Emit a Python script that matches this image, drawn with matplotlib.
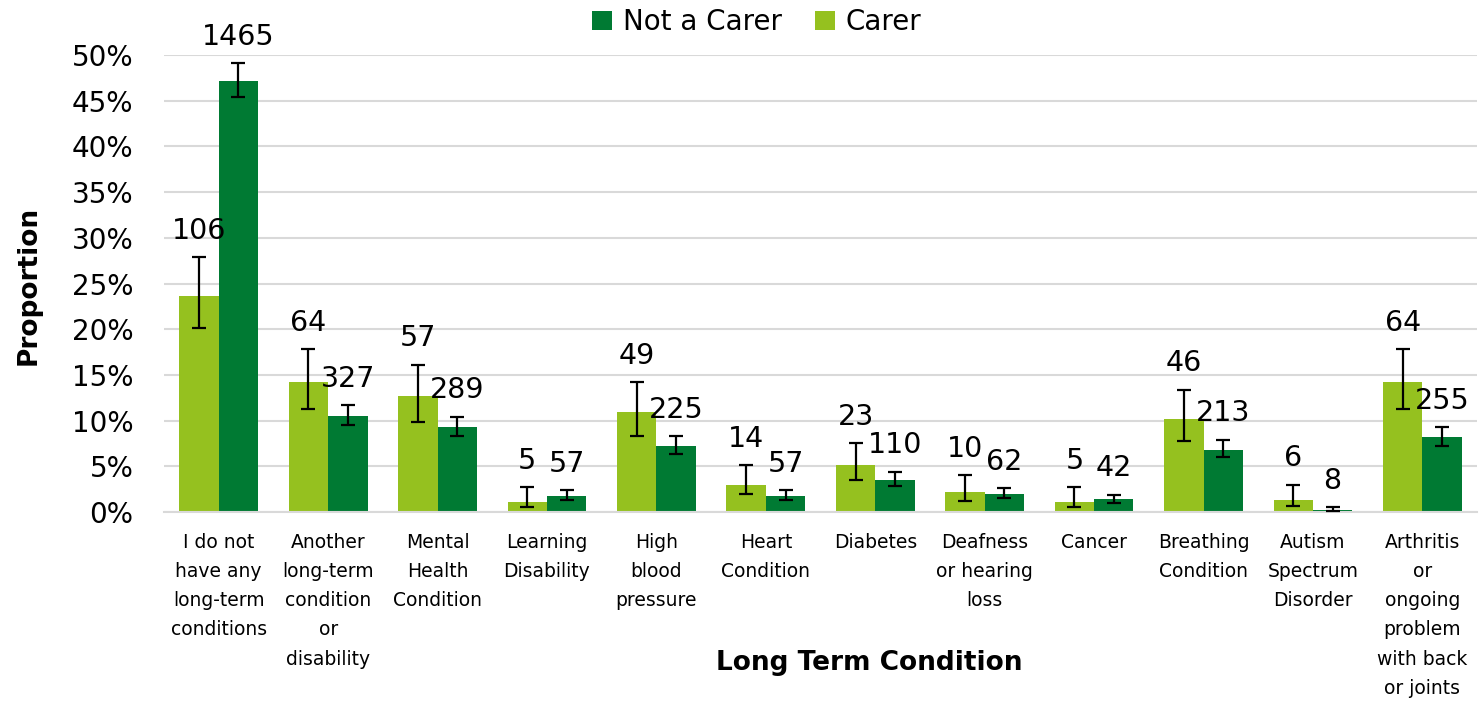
import numpy as np
import matplotlib.pyplot as plt

categories = ["I do not\nhave any\nlong-term\nconditions",
              "Another\nlong-term\ncondition\nor\ndisability",
              "Mental\nHealth\nCondition",
              "Learning\nDisability",
              "High\nblood\npressure",
              "Heart\nCondition",
              "Diabetes",
              "Deafness\nor hearing\nloss",
              "Cancer",
              "Breathing\nCondition",
              "Autism\nSpectrum\nDisorder",
              "Arthritis\nor\nongoing\nproblem\nwith back\nor joints"]

# proportions (%) and 95% interval bounds
carer = [23.6, 14.2, 12.7, 1.1, 10.9, 3.0, 5.1, 2.2, 1.1, 10.2, 1.3, 14.2]
carer_lo = [20.1, 11.3, 9.9, 0.5, 8.3, 2.0, 3.5, 1.2, 0.5, 7.8, 0.7, 11.3]
carer_hi = [27.9, 17.8, 16.1, 2.7, 14.2, 5.1, 7.5, 4.0, 2.7, 13.4, 3.0, 17.8]
carer_n = [106, 64, 57, 5, 49, 14, 23, 10, 5, 46, 6, 64]

not_carer = [47.2, 10.5, 9.3, 1.8, 7.2, 1.8, 3.5, 2.0, 1.4, 6.8, 0.25, 8.2]
not_carer_lo = [45.4, 9.5, 8.3, 1.3, 6.4, 1.3, 2.9, 1.5, 1.0, 6.0, 0.1, 7.2]
not_carer_hi = [49.1, 11.7, 10.4, 2.4, 8.3, 2.4, 4.4, 2.6, 1.9, 7.9, 0.5, 9.3]
not_carer_n = [1465, 327, 289, 57, 225, 57, 110, 62, 42, 213, 8, 255]

light = "#95C11F"
dark = "#007A33"

fig = plt.figure(figsize=(14.83, 7.01), dpi=100)
ax = fig.add_axes([0.1106, 0.2696, 0.8854, 0.6519])

x = np.arange(len(categories))
w = 0.36

def draw(xpos, vals, lo, hi, counts, color, name):
    vals = np.array(vals) / 100
    lo = np.array(lo) / 100
    hi = np.array(hi) / 100
    ax.bar(xpos, vals, w, color=color, label=name, zorder=2)
    ax.errorbar(xpos, vals, yerr=[vals - lo, hi - vals], fmt="none",
                ecolor="black", elinewidth=1.6, capsize=5, capthick=1.6, zorder=3)
    for xi, h, n in zip(xpos, hi, counts):
        ax.annotate(str(n), (xi, h), xytext=(0, 9), textcoords="offset points",
                    ha="center", va="bottom", fontsize=20.5, color="black")

draw(x - w / 2, carer, carer_lo, carer_hi, carer_n, light, "Carer")
draw(x + w / 2, not_carer, not_carer_lo, not_carer_hi, not_carer_n, dark, "Not a Carer")

ax.set_xlim(-0.5, len(categories) - 0.5)
ax.set_ylim(0, 0.5)
ax.set_yticks(np.arange(0, 0.51, 0.05))
ax.set_yticklabels([f"{int(round(t * 100))}%" for t in np.arange(0, 0.51, 0.05)], fontsize=20)
ax.set_xticks(x)
ax.set_xticklabels(categories, fontsize=13.5, linespacing=1.68, va="top")
ax.tick_params(axis="both", length=0)
ax.tick_params(axis="x", pad=15)
ax.tick_params(axis="y", pad=22)

ax.yaxis.grid(True, color="#D9D9D9", linewidth=1.5, zorder=0)
ax.set_axisbelow(True)
for s in ["top", "right", "left"]:
    ax.spines[s].set_visible(False)
ax.spines["bottom"].set_color("#D9D9D9")
ax.spines["bottom"].set_linewidth(1.5)

ax.set_ylabel("Proportion", fontsize=19, fontweight="bold")
ax.yaxis.set_label_coords((42 - 164) / 1313, (512 - 285) / 457)
fig.text(869 / 1483, 1 - 663 / 701, "Long Term Condition", fontsize=19,
         fontweight="bold", ha="center", va="center")

handles, labels = ax.get_legend_handles_labels()
fig.legend(handles[::-1], labels[::-1], loc="center", bbox_to_anchor=(757 / 1483, 1 - 22 / 701),
           ncol=2, frameon=False, fontsize=20, handlelength=0.7, handleheight=0.7,
           handletextpad=0.4, columnspacing=1.2, borderaxespad=0)

fig.savefig("out.png", dpi=100)
